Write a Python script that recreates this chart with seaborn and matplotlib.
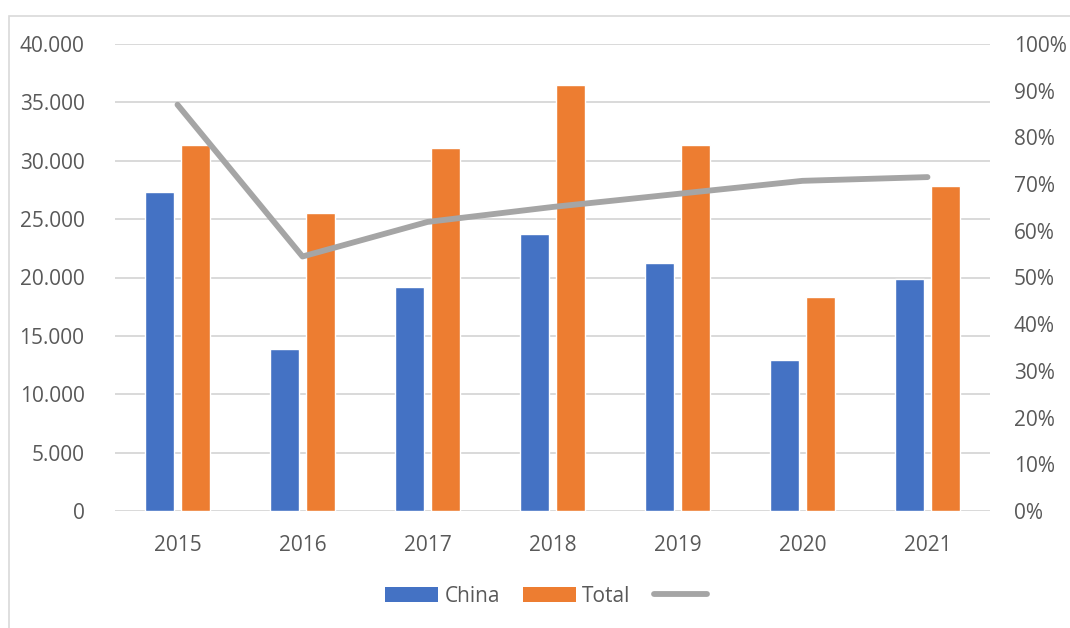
import numpy as np
import pandas as pd
import matplotlib
matplotlib.use("Agg")
import matplotlib.pyplot as plt
from matplotlib.patches import Patch, Rectangle
from matplotlib.lines import Line2D
from matplotlib.ticker import FuncFormatter, MultipleLocator
import seaborn as sns

years = ["2015", "2016", "2017", "2018", "2019", "2020", "2021"]
china = [27300, 13900, 19200, 23700, 21200, 12900, 19900]
total = [31350, 25500, 31100, 36500, 31350, 18300, 27800]
share = [0.87, 0.545, 0.619, 0.651, 0.679, 0.707, 0.715]

BLUE = "#4472C4"
ORANGE = "#ED7D31"
GRAY = "#A5A5A5"
TEXT = "#595959"
GRID = "#D9D9D9"


def thousands(v, pos):
    return f"{int(round(v)):,}".replace(",", ".")


def main():
    sns.set_theme(style="white")
    plt.rcParams["font.family"] = ["Open Sans", "DejaVu Sans"]

    df = pd.DataFrame({
        "year": years * 2,
        "value": china + total,
        "series": ["China"] * len(years) + ["Total"] * len(years),
    })

    fig = plt.figure(figsize=(10.7, 6.28), dpi=100)
    ax = fig.add_axes([115 / 1070, 1 - 511 / 628, 875 / 1070, 467 / 628])

    sns.barplot(
        data=df,
        x="year",
        y="value",
        hue="series",
        palette=[BLUE, ORANGE],
        width=0.576,
        gap=0.222,
        saturation=1,
        legend=False,
        ax=ax,
    )

    ax.set_ylim(0, 40000)
    ax.yaxis.set_major_locator(MultipleLocator(5000))
    ax.yaxis.set_major_formatter(FuncFormatter(thousands))
    ax.set_xlim(-0.5, len(years) - 0.5)
    ax.set_xlabel("")
    ax.set_ylabel("")
    ax.grid(axis="y", color=GRID, linewidth=1.4)
    ax.set_axisbelow(True)
    for side in ax.spines.values():
        side.set_visible(False)
    ax.tick_params(axis="y", length=0, pad=22, labelsize=15, labelcolor=TEXT)
    ax.tick_params(axis="x", length=0, pad=17, labelsize=15, labelcolor=TEXT)

    ax2 = ax.twinx()
    sns.lineplot(
        x=np.arange(len(years)),
        y=share,
        color=GRAY,
        linewidth=4.2,
        solid_capstyle="round",
        ax=ax2,
    )
    ax2.set_ylim(0, 1)
    ax2.yaxis.set_major_locator(MultipleLocator(0.1))
    ax2.yaxis.set_major_formatter(FuncFormatter(lambda v, p: f"{v * 100:.0f}%"))
    ax2.set_xlim(-0.5, len(years) - 0.5)
    for side in ax2.spines.values():
        side.set_visible(False)
    ax2.tick_params(axis="y", length=0, pad=17, labelsize=15, labelcolor=TEXT)
    ax2.grid(False)

    handles = [
        Patch(facecolor=BLUE, edgecolor="none"),
        Patch(facecolor=ORANGE, edgecolor="none"),
        Line2D([0], [0], color=GRAY, linewidth=4.2, solid_capstyle="round"),
    ]
    fig.legend(
        handles,
        ["China", "Total", ""],
        loc="center",
        bbox_to_anchor=(549 / 1070, 1 - 596 / 628),
        ncol=3,
        frameon=False,
        fontsize=15,
        labelcolor=TEXT,
        handlelength=2.55,
        handleheight=0.7,
        handletextpad=0.3,
        columnspacing=1.1,
    )

    fig.patches.append(Rectangle(
        (8.5 / 1070, -0.1), 1.2, 1.1 - 15.5 / 628,
        transform=fig.transFigure, fill=False, edgecolor=GRID, linewidth=1.2,
    ))

    fig.savefig("out.png", dpi=100, facecolor="white")


if __name__ == "__main__":
    main()
